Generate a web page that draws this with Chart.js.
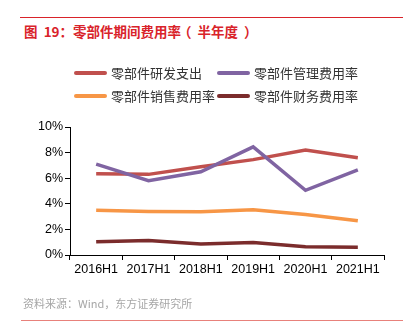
<!DOCTYPE html>
<html>
<head>
<meta charset="utf-8">
<script src="https://cdn.jsdelivr.net/npm/chart.js@4"></script>
<style>
  body { margin: 0; background: #fff; font-family: "Liberation Sans", "Noto Sans CJK SC", sans-serif; }
  #wrap { position: relative; width: 403px; height: 336px; overflow: hidden; }
  #topRule { position: absolute; left: 20px; right: 0; top: 17px; height: 1px; background: #d9232a; }
  #title { position: absolute; left: 24px; top: 21px; font-size: 13.5px; font-weight: bold; color: #d9232a; font-family: "Noto Sans CJK SC", sans-serif; white-space: nowrap; }
  #title .gap { display: inline-block; width: 6px; }
  #title .pre { display: inline-block; margin-left: -3px; }
  #legend { position: absolute; left: 74px; top: 63px; display: grid; grid-template-columns: 143px 150px; row-gap: 4px; }
  .item { display: flex; align-items: center; height: 19px; font-size: 13px; color: #333; font-family: "Noto Sans CJK SC", sans-serif; white-space: nowrap; }
  .swatch { width: 33px; height: 4px; border-radius: 2px; margin-right: 4px; }
  #source { position: absolute; left: 23px; top: 295px; font-size: 11px; color: #a6a6a6; font-family: "Noto Sans CJK SC", sans-serif; white-space: nowrap; }
  #bottomRule { position: absolute; left: 21px; right: 0; top: 320px; height: 1px; background: #e8817b; }
  #chart { position: absolute; left: 0; top: 0; }
</style>
</head>
<body>
<div id="wrap">
  <div id="topRule"></div>
  <div id="title">图&nbsp;&nbsp;19：零部件期间费用率<span class="pre">（</span><span class="gap"></span>半年度<span class="gap"></span>）</div>
  <canvas id="chart" width="403" height="336"></canvas>
  <div id="legend"></div>
  <div id="source">资料来源：Wind，东方证券研究所</div>
  <div id="bottomRule"></div>
</div>
<script>
// Categories (half-years)
const periods = ["2016H1", "2017H1", "2018H1", "2019H1", "2020H1", "2021H1"];

// Series values, in percent
const rdRate = [6.35, 6.3, 6.9, 7.45, 8.2, 7.6];
const mgmtRate = [7.1, 5.8, 6.5, 8.45, 5.05, 6.65];
const salesRate = [3.5, 3.4, 3.38, 3.53, 3.17, 2.68];
const financeRate = [1.04, 1.14, 0.85, 0.97, 0.65, 0.6];

// Series names and colors (legend order: row by row)
const seriesNames = ["零部件研发支出", "零部件管理费用率", "零部件销售费用率", "零部件财务费用率"];
const seriesColors = ["#c0504d", "#8064a2", "#f79646", "#7b2c2c"];
const seriesData = [rdRate, mgmtRate, salesRate, financeRate];

// Y axis ticks
const yMin = 0;
const yMax = 10;
const yStep = 2;

const datasets = seriesNames.map((name, i) => ({
  label: name,
  data: seriesData[i],
  borderColor: seriesColors[i],
  backgroundColor: seriesColors[i],
  borderWidth: 3.5,
  pointRadius: 0,
  tension: 0,
  fill: false,
}));

// draw back to front so the red and purple lines sit like the original
const drawOrder = [2, 3, 0, 1];
drawOrder.forEach((idx, pos) => { datasets[idx].order = 4 - pos; });

// HTML legend in two aligned columns
const legendEl = document.getElementById("legend");
seriesNames.forEach((name, i) => {
  const item = document.createElement("div");
  item.className = "item";
  item.innerHTML = `<span class="swatch" style="background:${seriesColors[i]}"></span>${name}`;
  legendEl.appendChild(item);
});

const tickFont = { family: "Liberation Sans", size: 12.5 };

new Chart(document.getElementById("chart"), {
  type: "line",
  data: { labels: periods, datasets: datasets },
  options: {
    responsive: false,
    animation: false,
    layout: { padding: { left: 0, right: 19, top: 127, bottom: 0 } },
    plugins: {
      legend: { display: false },
      title: { display: false },
      tooltip: { enabled: false },
    },
    scales: {
      x: {
        offset: true,
        grid: { offset: true, drawOnChartArea: false, drawTicks: true, tickLength: 5, color: "#000" },
        border: { color: "#000", width: 1 },
        ticks: { color: "#000", font: tickFont, padding: 2, maxRotation: 0 },
        afterFit: (scale) => { scale.height = 81; },
      },
      y: {
        min: yMin,
        max: yMax,
        grid: { drawOnChartArea: false, drawTicks: true, tickLength: 5, color: "#000" },
        border: { color: "#000", width: 1 },
        ticks: {
          stepSize: yStep,
          color: "#000",
          font: tickFont,
          padding: 2,
          callback: (v) => v + "%",
        },
        afterFit: (scale) => { scale.width = 70; },
      },
    },
  },
});
</script>
</body>
</html>
